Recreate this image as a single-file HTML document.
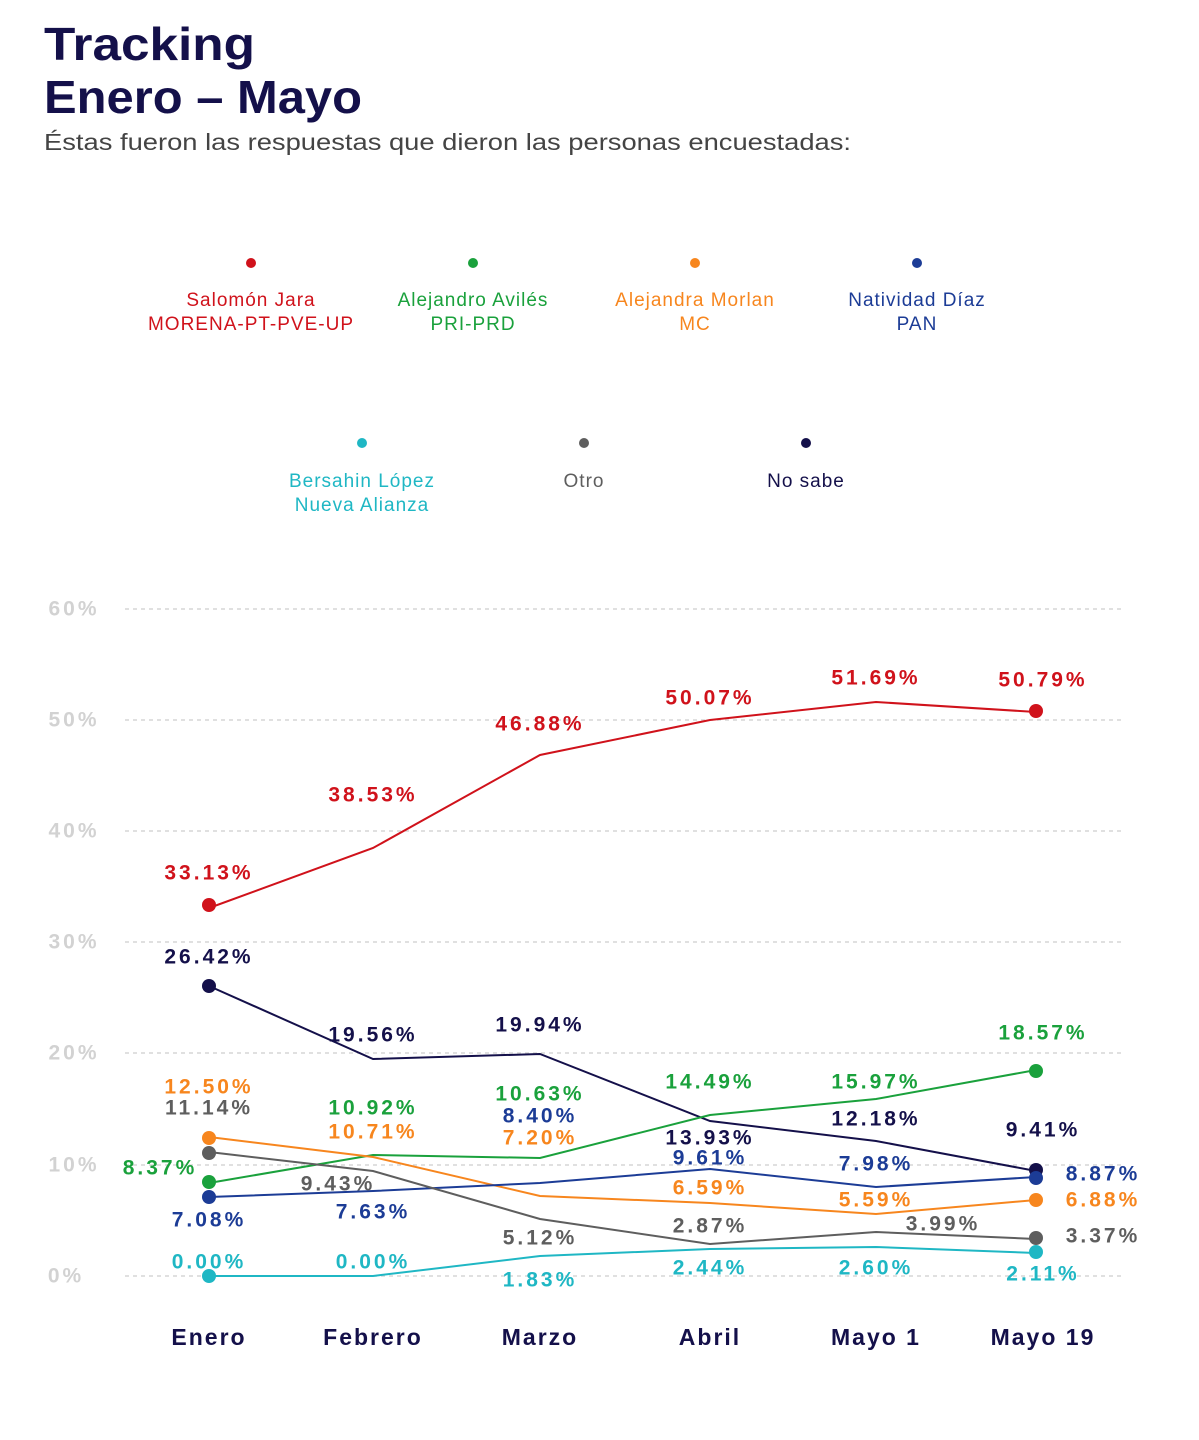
<!DOCTYPE html>
<html><head><meta charset="utf-8"><style>
body{margin:0;background:#fff;width:1199px;height:1440px;overflow:hidden}
svg{display:block}
.t{font-family:"Liberation Sans",sans-serif}
.v{font-family:"Liberation Sans",sans-serif;font-weight:bold;font-size:21px;text-anchor:middle;dominant-baseline:central;letter-spacing:3px}
.lg{font-family:"Liberation Sans",sans-serif;font-size:19px;text-anchor:middle;letter-spacing:1px}
</style></head><body>
<svg width="1199" height="1440" viewBox="0 0 1199 1440">
<text x="44" y="60" class="t" font-size="46" font-weight="bold" fill="#14104a" textLength="211" lengthAdjust="spacingAndGlyphs">Tracking</text>
<text x="44" y="113" class="t" font-size="46" font-weight="bold" fill="#14104a" textLength="318" lengthAdjust="spacingAndGlyphs">Enero – Mayo</text>
<text x="44" y="150" class="t" font-size="23" fill="#444" textLength="807" lengthAdjust="spacingAndGlyphs">Éstas fueron las respuestas que dieron las personas encuestadas:</text>

<g>
<circle cx="251" cy="263" r="5" fill="#d0121b"/><text class="lg" x="251" y="306" fill="#d0121b">Salomón Jara</text><text class="lg" x="251" y="330" fill="#d0121b">MORENA-PT-PVE-UP</text>
<circle cx="473" cy="263" r="5" fill="#1aa13c"/><text class="lg" x="473" y="306" fill="#1aa13c">Alejandro Avilés</text><text class="lg" x="473" y="330" fill="#1aa13c">PRI-PRD</text>
<circle cx="695" cy="263" r="5" fill="#f7861e"/><text class="lg" x="695" y="306" fill="#f7861e">Alejandra Morlan</text><text class="lg" x="695" y="330" fill="#f7861e">MC</text>
<circle cx="917" cy="263" r="5" fill="#1c3c96"/><text class="lg" x="917" y="306" fill="#1c3c96">Natividad Díaz</text><text class="lg" x="917" y="330" fill="#1c3c96">PAN</text>
<circle cx="362" cy="443" r="5" fill="#1fb7c4"/><text class="lg" x="362" y="487" fill="#1fb7c4">Bersahin López</text><text class="lg" x="362" y="511" fill="#1fb7c4">Nueva Alianza</text>
<circle cx="584" cy="443" r="5" fill="#5e5e5e"/><text class="lg" x="584" y="487" fill="#5e5e5e">Otro</text>
<circle cx="806" cy="443" r="5" fill="#14104a"/><text class="lg" x="806" y="487" fill="#14104a">No sabe</text>
</g>

<g stroke="#d6d6d6" stroke-width="1.5" stroke-dasharray="4 4">
<line x1="125" x2="1125" y1="609" y2="609"/><line x1="125" x2="1125" y1="720" y2="720"/>
<line x1="125" x2="1125" y1="831" y2="831"/><line x1="125" x2="1125" y1="942" y2="942"/>
<line x1="125" x2="1125" y1="1053" y2="1053"/><line x1="125" x2="1125" y1="1165" y2="1165"/>
<line x1="125" x2="1125" y1="1276" y2="1276"/>
</g>
<g>
<text class="v" x="74" y="609" fill="#d2d2d2">60%</text><text class="v" x="74" y="720" fill="#d2d2d2">50%</text>
<text class="v" x="74" y="831" fill="#d2d2d2">40%</text><text class="v" x="74" y="942" fill="#d2d2d2">30%</text>
<text class="v" x="74" y="1053" fill="#d2d2d2">20%</text><text class="v" x="74" y="1165" fill="#d2d2d2">10%</text>
<text class="v" x="66" y="1276" fill="#d2d2d2">0%</text>
</g>

<g fill="none" stroke-width="2">
<polyline stroke="#d0121b" points="209,908 373,848 540,755 710,720 876,702 1036,712"/>
<polyline stroke="#14104a" points="209,986 373,1059 540,1054 710,1121 876,1141 1036,1171"/>
<polyline stroke="#1aa13c" points="209,1183 373,1155 540,1158 710,1115 876,1099 1036,1070"/>
<polyline stroke="#f7861e" points="209,1137 373,1157 540,1196 710,1203 876,1214 1036,1200"/>
<polyline stroke="#1c3c96" points="209,1197 373,1191 540,1183 710,1169 876,1187 1036,1177"/>
<polyline stroke="#5e5e5e" points="209,1152 373,1171 540,1219 710,1244 876,1232 1036,1239"/>
<polyline stroke="#1fb7c4" points="209,1276 373,1276 540,1256 710,1249 876,1247 1036,1253"/>
</g>
<g>
<circle cx="209" cy="905" r="7" fill="#d0121b"/><circle cx="1036" cy="711" r="7" fill="#d0121b"/>
<circle cx="209" cy="986" r="7" fill="#14104a"/><circle cx="1036" cy="1170" r="7" fill="#14104a"/>
<circle cx="209" cy="1182" r="7" fill="#1aa13c"/><circle cx="1036" cy="1071" r="7" fill="#1aa13c"/>
<circle cx="209" cy="1138" r="7" fill="#f7861e"/><circle cx="1036" cy="1200" r="7" fill="#f7861e"/>
<circle cx="209" cy="1197" r="7" fill="#1c3c96"/><circle cx="1036" cy="1178" r="7" fill="#1c3c96"/>
<circle cx="209" cy="1153" r="7" fill="#5e5e5e"/><circle cx="1036" cy="1238" r="7" fill="#5e5e5e"/>
<circle cx="209" cy="1276" r="7" fill="#1fb7c4"/><circle cx="1036" cy="1252" r="7" fill="#1fb7c4"/>
</g>

<g>
<text class="v" x="209" y="873" fill="#d0121b">33.13%</text><text class="v" x="373" y="795" fill="#d0121b">38.53%</text>
<text class="v" x="540" y="724" fill="#d0121b">46.88%</text><text class="v" x="710" y="698" fill="#d0121b">50.07%</text>
<text class="v" x="876" y="678" fill="#d0121b">51.69%</text><text class="v" x="1043" y="680" fill="#d0121b">50.79%</text>

<text class="v" x="209" y="957" fill="#14104a">26.42%</text><text class="v" x="373" y="1035" fill="#14104a">19.56%</text>
<text class="v" x="540" y="1025" fill="#14104a">19.94%</text><text class="v" x="710" y="1138" fill="#14104a">13.93%</text>
<text class="v" x="876" y="1119" fill="#14104a">12.18%</text><text class="v" x="1043" y="1130" fill="#14104a">9.41%</text>

<text class="v" x="160" y="1168" fill="#1aa13c">8.37%</text><text class="v" x="373" y="1108" fill="#1aa13c">10.92%</text>
<text class="v" x="540" y="1094" fill="#1aa13c">10.63%</text><text class="v" x="710" y="1082" fill="#1aa13c">14.49%</text>
<text class="v" x="876" y="1082" fill="#1aa13c">15.97%</text><text class="v" x="1043" y="1033" fill="#1aa13c">18.57%</text>

<text class="v" x="209" y="1087" fill="#f7861e">12.50%</text><text class="v" x="373" y="1132" fill="#f7861e">10.71%</text>
<text class="v" x="540" y="1138" fill="#f7861e">7.20%</text><text class="v" x="710" y="1188" fill="#f7861e">6.59%</text>
<text class="v" x="876" y="1200" fill="#f7861e">5.59%</text><text class="v" x="1103" y="1200" fill="#f7861e">6.88%</text>

<text class="v" x="209" y="1220" fill="#1c3c96">7.08%</text><text class="v" x="373" y="1212" fill="#1c3c96">7.63%</text>
<text class="v" x="540" y="1116" fill="#1c3c96">8.40%</text><text class="v" x="710" y="1158" fill="#1c3c96">9.61%</text>
<text class="v" x="876" y="1164" fill="#1c3c96">7.98%</text><text class="v" x="1103" y="1174" fill="#1c3c96">8.87%</text>

<text class="v" x="209" y="1108" fill="#5e5e5e">11.14%</text><text class="v" x="338" y="1184" fill="#5e5e5e">9.43%</text>
<text class="v" x="540" y="1238" fill="#5e5e5e">5.12%</text><text class="v" x="710" y="1226" fill="#5e5e5e">2.87%</text>
<text class="v" x="943" y="1224" fill="#5e5e5e">3.99%</text><text class="v" x="1103" y="1236" fill="#5e5e5e">3.37%</text>

<text class="v" x="209" y="1262" fill="#1fb7c4">0.00%</text><text class="v" x="373" y="1262" fill="#1fb7c4">0.00%</text>
<text class="v" x="540" y="1280" fill="#1fb7c4">1.83%</text><text class="v" x="710" y="1268" fill="#1fb7c4">2.44%</text>
<text class="v" x="876" y="1268" fill="#1fb7c4">2.60%</text><text class="v" x="1043" y="1274" fill="#1fb7c4">2.11%</text>
</g>

<g>
<text class="v" x="209" y="1337" fill="#14104a" style="font-size:23px;letter-spacing:2px">Enero</text>
<text class="v" x="373" y="1337" fill="#14104a" style="font-size:23px;letter-spacing:2px">Febrero</text>
<text class="v" x="540" y="1337" fill="#14104a" style="font-size:23px;letter-spacing:2px">Marzo</text>
<text class="v" x="710" y="1337" fill="#14104a" style="font-size:23px;letter-spacing:2px">Abril</text>
<text class="v" x="876" y="1337" fill="#14104a" style="font-size:23px;letter-spacing:2px">Mayo 1</text>
<text class="v" x="1043" y="1337" fill="#14104a" style="font-size:23px;letter-spacing:2px">Mayo 19</text>
</g>
</svg>
</body></html>
